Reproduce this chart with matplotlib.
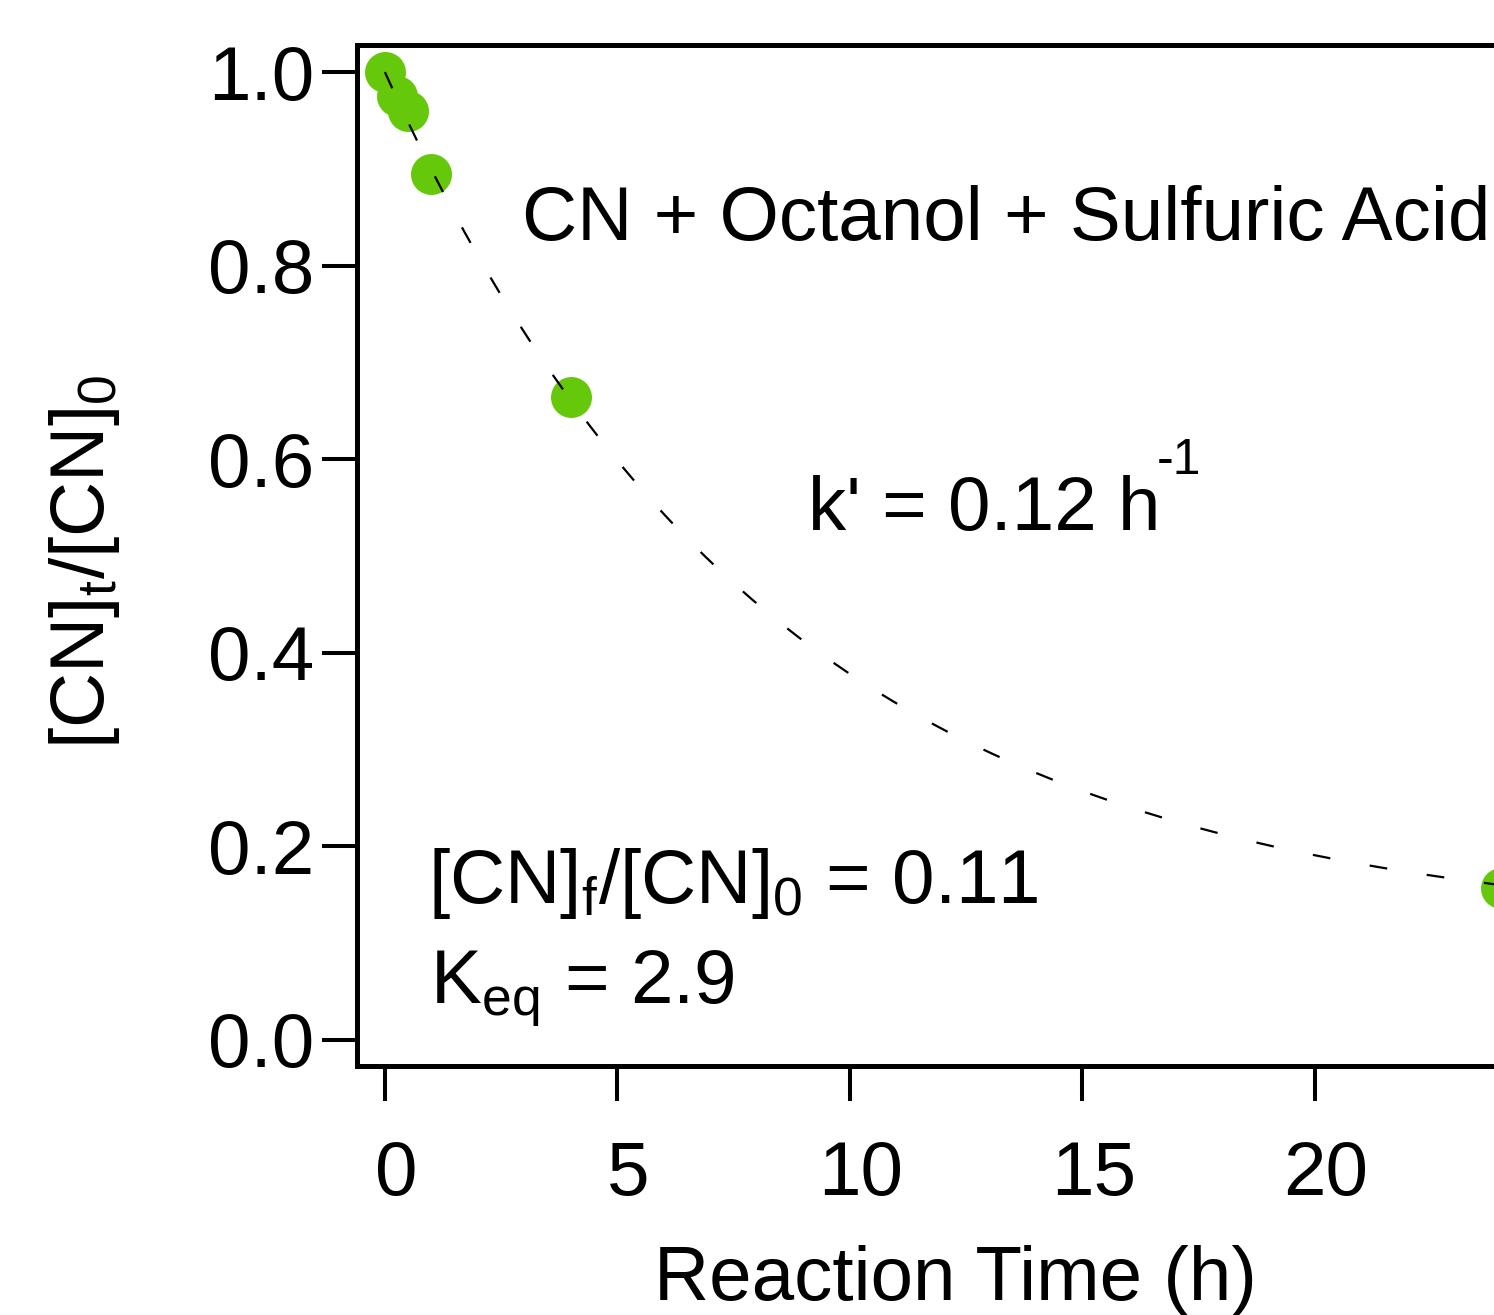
import numpy as np
import matplotlib
matplotlib.use("Agg")
import matplotlib.pyplot as plt
from matplotlib.transforms import ScaledTranslation

plt.rcParams['font.family'] = ['Liberation Sans', 'DejaVu Sans']
plt.rcParams['mathtext.fontset'] = 'custom'
plt.rcParams['mathtext.rm'] = 'Liberation Sans'
plt.rcParams['mathtext.it'] = 'Liberation Sans:italic'
plt.rcParams['mathtext.bf'] = 'Liberation Sans:bold'

# Data
time_h = [0.0, 0.25, 0.5, 1.0, 4.0, 24.0]
cn_ratio = [1.0, 0.975, 0.96, 0.895, 0.664, 0.157]

# Fit parameters shown on the chart
k_prime = 0.12          # h^-1
plateau = 0.11          # [CN]f/[CN]0
x_ticks = [0, 5, 10, 15, 20]
y_ticks = [0.0, 0.2, 0.4, 0.6, 0.8, 1.0]

W, H = 1494, 1315
fig = plt.figure(figsize=(W / 100, H / 100), dpi=100)

# axes geometry (pixels)
left_px, right_px, top_px, bot_px = 357, 385 + 25 * 46.5, 45, 1066
ax = fig.add_axes([left_px / W, 1 - bot_px / H, (right_px - left_px) / W, (bot_px - top_px) / H])
ax.set_xlim(-0.6, 25)
ax.set_ylim(-0.027, 1.028)

green = '#66c80a'
ax.plot(time_h, cn_ratio, 'o', color=green, markersize=29.5, markeredgewidth=0, zorder=2)

t_fit = np.linspace(0, 25, 400)
y_fit = plateau + (1 - plateau) * np.exp(-k_prime * t_fit)
ax.plot(t_fit, y_fit, color='black', lw=1.6, dashes=(8, 18), zorder=3)

for s in ['top', 'left', 'bottom']:
    ax.spines[s].set_linewidth(3.6)
ax.spines['right'].set_visible(False)

ax.set_xticks(x_ticks)
ax.set_yticks(y_ticks)
ax.set_xticklabels([str(v) for v in x_ticks])
ax.set_yticklabels([f"{v:.1f}" for v in y_ticks])
ax.tick_params(axis='x', direction='out', length=25, width=2.9, pad=28, labelsize=55)
ax.tick_params(axis='y', direction='out', length=25, width=2.9, pad=6, labelsize=55)
offset = ScaledTranslation(11 / 100, 0, fig.dpi_scale_trans)
for lab in ax.get_xticklabels():
    lab.set_transform(lab.get_transform() + offset)

fs = 55
ax.text(2.95, 0.826, 'CN + Octanol + Sulfuric Acid', fontsize=fs, va='baseline', ha='left')
ax.text(9.1, 0.527, "k' = 0.12 h", fontsize=fs, va='baseline', ha='left')
ax.text(16.6, 0.585, "-1", fontsize=36, va='baseline', ha='left')
ax.text(0.92, 0.1415, r"[CN]$_{\mathrm{f}}$/[CN]$_{\mathrm{0}}$ = 0.11", fontsize=fs, va='baseline', ha='left')
ax.text(0.98, 0.038, r"K$_{\mathrm{eq}}$ = 2.9", fontsize=fs, va='baseline', ha='left')

fig.text(955 / W, 1 - 1300 / H, 'Reaction Time (h)', fontsize=fs, ha='center', va='baseline')
fig.text(85 / W, 1 - 562 / H, r"[CN]$_{\mathrm{t}}$/[CN]$_{\mathrm{0}}$", fontsize=fs,
         rotation=90, ha='center', va='center')

fig.savefig('out.png', dpi=100, facecolor='white')
